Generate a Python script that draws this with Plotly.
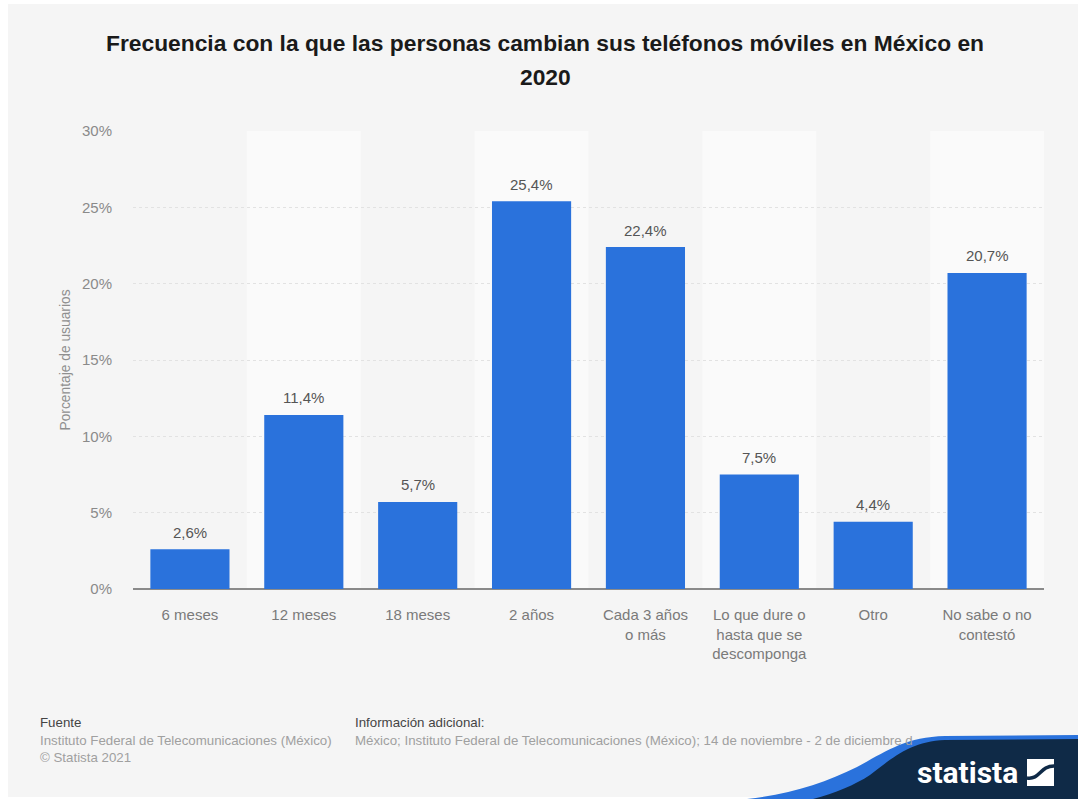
import plotly.graph_objects as go

categories = ["6 meses", "12 meses", "18 meses", "2 años", "Cada 3 años<br>o más",
              "Lo que dure o<br>hasta que se<br>descomponga", "Otro", "No sabe o no<br>contestó"]
values = [2.6, 11.4, 5.7, 25.4, 22.4, 7.5, 4.4, 20.7]
value_labels = ["2,6%", "11,4%", "5,7%", "25,4%", "22,4%", "7,5%", "4,4%", "20,7%"]
y_ticks = [0, 5, 10, 15, 20, 25, 30]
y_tick_labels = ["0%", "5%", "10%", "15%", "20%", "25%", "30%"]

W, H = 1078, 799
LEFT, RIGHT, TOP, BOTTOM = 133, 1044, 131, 589
FONT = "Liberation Sans"
NAVY = "#0f2a47"
BLUE = "#2a72dc"


def px(x):
    # Page pixel to plot-relative paper fraction, horizontally
    return (x - LEFT) / (RIGHT - LEFT)


def py(y):
    # Page pixel to plot-relative paper fraction, vertically
    return (BOTTOM - y) / (BOTTOM - TOP)


def pts(*coords):
    # Builds an SVG path in paper fractions from pixel pairs
    out = []
    for cmd, *xy in coords:
        segs = [f"{px(xy[i]):.5f},{py(xy[i + 1]):.5f}" for i in range(0, len(xy), 2)]
        out.append(cmd + " " + " ".join(segs))
    return " ".join(out)


fig = go.Figure(go.Bar(
    x=list(range(len(categories))), y=values, width=0.695,
    marker=dict(color=BLUE, line_width=0),
    hoverinfo="skip",
))

# Grey card on a white page
shapes = [dict(type="rect", xref="paper", yref="paper", layer="below", fillcolor="#f5f5f5", line_width=0,
               x0=px(8), x1=px(W), y0=py(797), y1=py(4))]
# Lighter column bands behind every second category
for i in range(1, len(categories), 2):
    shapes.append(dict(type="rect", xref="x", yref="paper", x0=i - 0.5, x1=i + 0.5, y0=0, y1=1,
                       fillcolor="#fafafa", line_width=0, layer="below"))

# Footer swoosh behind the brand mark
shapes.append(dict(type="path", xref="paper", yref="paper", layer="above", fillcolor=BLUE, line_width=0,
                   path=pts(("M", 747, 799), ("C", 790, 794, 825, 783, 857, 767),
                            ("C", 885, 752, 905, 737, 945, 736), ("L", 1078, 735), ("L", 1078, 799)) + " Z"))
shapes.append(dict(type="path", xref="paper", yref="paper", layer="above", fillcolor=NAVY, line_width=0,
                   path=pts(("M", 813, 799), ("C", 835, 793, 855, 785, 870, 775),
                            ("C", 890, 760, 910, 741, 945, 740), ("L", 1078, 739), ("L", 1078, 799)) + " Z"))
# Brand icon: white square crossed by a dark S-shaped stroke
shapes.append(dict(type="rect", xref="paper", yref="paper", layer="above", fillcolor="white", line_width=0,
                   x0=px(1027), x1=px(1054), y0=py(786), y1=py(759)))
shapes.append(dict(type="path", xref="paper", yref="paper", layer="above", line=dict(color=NAVY, width=3.5),
                   path=pts(("M", 1027, 778), ("C", 1040, 780, 1040, 766, 1054, 766))))

annotations = [
    dict(x=px(545), y=py(43), text="<b>Frecuencia con la que las personas cambian sus teléfonos móviles en México en</b>",
         xanchor="center", yanchor="middle", font=dict(size=22.8, color="#1a1a1a", family=FONT)),
    dict(x=px(545), y=py(77), text="<b>2020</b>",
         xanchor="center", yanchor="middle", font=dict(size=22.8, color="#1a1a1a", family=FONT)),
    dict(x=px(38), y=py(722), text="Fuente", xanchor="left", yanchor="middle", font=dict(size=13.3, color="#444444", family=FONT)),
    dict(x=px(38), y=py(740), text="Instituto Federal de Telecomunicaciones (México)", xanchor="left", yanchor="middle",
         font=dict(size=13.3, color="#a0a0a0", family=FONT)),
    dict(x=px(38), y=py(757), text="© Statista 2021", xanchor="left", yanchor="middle", font=dict(size=13.3, color="#a0a0a0", family=FONT)),
    dict(x=px(353), y=py(722), text="Información adicional:", xanchor="left", yanchor="middle", font=dict(size=13.3, color="#444444", family=FONT)),
    dict(x=px(353), y=py(740), text="México; Instituto Federal de Telecomunicaciones (México); 14 de noviembre - 2 de diciembre d",
         xanchor="left", yanchor="middle", font=dict(size=13.3, color="#a0a0a0", family=FONT)),
    dict(x=px(1020), y=py(772), text="<b>statista</b>", xanchor="right", yanchor="middle",
         font=dict(size=30, color="white", family="Roboto")),
]
for a in annotations:
    a.update(xref="paper", yref="paper", showarrow=False)

# Value labels sit a fixed distance above each bar
for i, (v, label) in enumerate(zip(values, value_labels)):
    annotations.append(dict(x=i, y=v, xref="x", yref="y", text=label, showarrow=False, yanchor="middle", yshift=17,
                            font=dict(size=15, color="#555555", family=FONT)))

fig.update_layout(
    width=W, height=H,
    margin=dict(l=LEFT, r=W - RIGHT, t=TOP, b=H - BOTTOM),
    paper_bgcolor="white", plot_bgcolor="rgba(0,0,0,0)",
    showlegend=False, shapes=shapes, annotations=annotations,
    font=dict(family=FONT),
    xaxis=dict(tickmode="array", tickvals=list(range(len(categories))), ticktext=categories,
               range=[-0.5, len(categories) - 0.5], showgrid=False, ticks="", zeroline=False,
               showline=False, ticklabelstandoff=15, tickfont=dict(size=15, color="#7a7a7a", family=FONT)),
    yaxis=dict(tickmode="array", tickvals=y_ticks, ticktext=y_tick_labels, range=[0, 30],
               showgrid=True, gridcolor="#e2e2e2", gridwidth=1, griddash="dot",
               zeroline=True, zerolinecolor="#8a8a8a", zerolinewidth=1.5, ticks="",
               ticklabelstandoff=20,
               tickfont=dict(size=15, color="#8a8a8a", family=FONT),
               title=dict(text="Porcentaje de usuarios", font=dict(size=13.8, color="#8f8f8f", family=FONT), standoff=8)),
)

fig.write_html("out.html", config=dict(displayModeBar=False))
